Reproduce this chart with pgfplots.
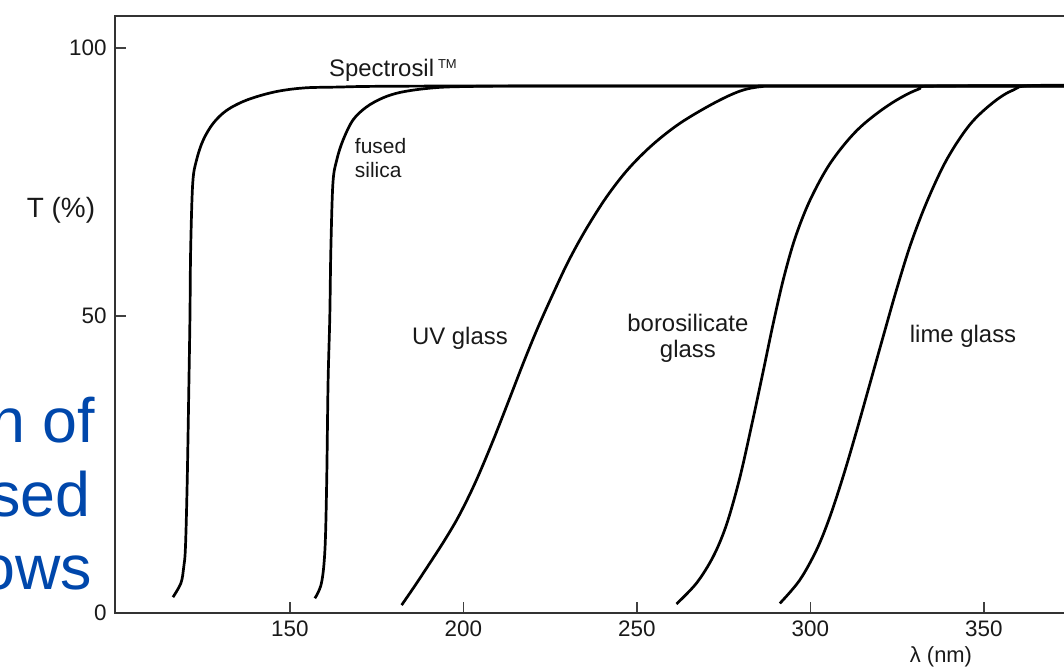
\documentclass[border=0pt]{standalone}
\usepackage{fontspec}
\setmainfont{Liberation Sans}
\usepackage{pgfplots}
\pgfplotsset{compat=1.18}
\definecolor{slideblue}{RGB}{0,71,171}
\pgfplotsset{curve/.style={black, no markers, line width=2.7bp, smooth, tension=0.55}}
\begin{document}
\begin{tikzpicture}[x=1bp,y=1bp]
\useasboundingbox (0,0) rectangle (1064,668);
\begin{axis}[
  at={(115bp,55bp)}, anchor=south west,
  scale only axis, width=1042.4bp, height=597bp,
  xmin=99.6, xmax=400, ymin=0, ymax=105.7,
  axis line style={line width=2bp, black!80},
  xtick={150,200,250,300,350},
  ytick={0,52.6,100}, yticklabels={0,50,100},
  tick align=inside, xtick pos=bottom, ytick pos=left,
  major tick length=11bp,
  tick style={line width=1.5bp, black!75},
  /pgf/number format/assume math mode=true,
  tick label style={font=\fontsize{22.5}{22.5}\selectfont, black!90},
  xticklabel style={yshift=-4bp},
  yticklabel style={xshift=-5bp},
]
% Spectrosil
\addplot[curve] coordinates {(116.3,2.8)(118.6,5.3)(119.4,8.1)(119.9,11.6)(120.4,23)(120.9,40.7)(121.2,52.4)(121.4,64.2)(122.0,76.1)(123.1,80.2)(125.0,83.7)(127.9,86.7)(131.8,89.0)(137.5,90.8)(145.2,92.2)(152.9,92.9)(162.4,93.1)(200,93.3)(400,93.3)};
% fused silica
\addplot[curve] coordinates {(157.2,2.6)(159.1,5.3)(160.1,11.2)(160.6,23)(161.0,40.7)(161.5,52.4)(161.8,64.2)(162.4,76.1)(163.5,80.2)(165.3,83.7)(168.2,87.3)(172.1,89.6)(176.8,91.2)(182,92.2)(190,92.9)(200,93.2)(230,93.3)(400,93.3)};
% UV glass
\addplot[curve] coordinates {(182.2,1.4)(186,4.8)(190.3,8.8)(194.3,12.6)(198,16.4)(201.2,20.2)(204.3,24.3)(208.6,30.6)(213.2,37.8)(217.3,44.3)(221.3,50.3)(225.6,56.2)(230.2,62.2)(235.3,67.9)(241.3,73.7)(247.5,78.6)(254.5,82.9)(262.4,86.7)(272.0,90.2)(279.7,92.4)(286,93.2)(295,93.3)(400,93.3)};
% borosilicate glass
\addplot[curve] coordinates {(261.4,1.6)(267.2,5.3)(272.0,10.0)(275.8,15.6)(279.6,23.8)(283.2,33.6)(286.4,42.8)(289.3,51.3)(292.3,59.3)(295.6,66.4)(299.9,73.1)(305.8,79.7)(313.5,85.5)(322.5,89.9)(331,92.7)(338,93.3)(400,93.3)};
% lime glass
\addplot[curve] coordinates {(291.2,1.7)(296.9,5.8)(301.8,11.2)(305.6,17)(309.5,24.3)(313.3,32.2)(317.2,40.7)(321,49.0)(324.8,57.2)(328.9,65.3)(333.7,73.0)(339.4,80.4)(346,86.5)(352.7,90.4)(358.5,92.6)(365,93.4)(400,93.4)};
\begin{scope}[every node/.style={font=\fontsize{24}{26}\selectfont, black!90, inner sep=0pt}]
\node at (axis cs:179.7,96.0) {Spectrosil\,\raisebox{0.35em}{\fontsize{13}{13}\selectfont TM}};
\node[anchor=west, align=left, font=\fontsize{21}{24}\selectfont] at (axis cs:168.7,80.5) {fused\\silica};
\node at (axis cs:199,48.7) {UV glass};
\node[align=center] at (axis cs:264.7,48.7) {borosilicate\\glass};
\node at (axis cs:344,49) {lime glass};
\end{scope}
\end{axis}
\node[font=\fontsize{28}{28}\selectfont, black!90] at (61,458) {T (\%)};
\node[font=\fontsize{22}{22}\selectfont, black!90] at (941,11) {λ (nm)};
\begin{scope}[every node/.style={font=\fontsize{63}{63}\selectfont, text=slideblue, inner sep=0pt, anchor=base east}]
\node at (95,225) {n of};
\node at (91,151) {sed};
\node at (92,78) {ows};
\end{scope}
\end{tikzpicture}
\end{document}
